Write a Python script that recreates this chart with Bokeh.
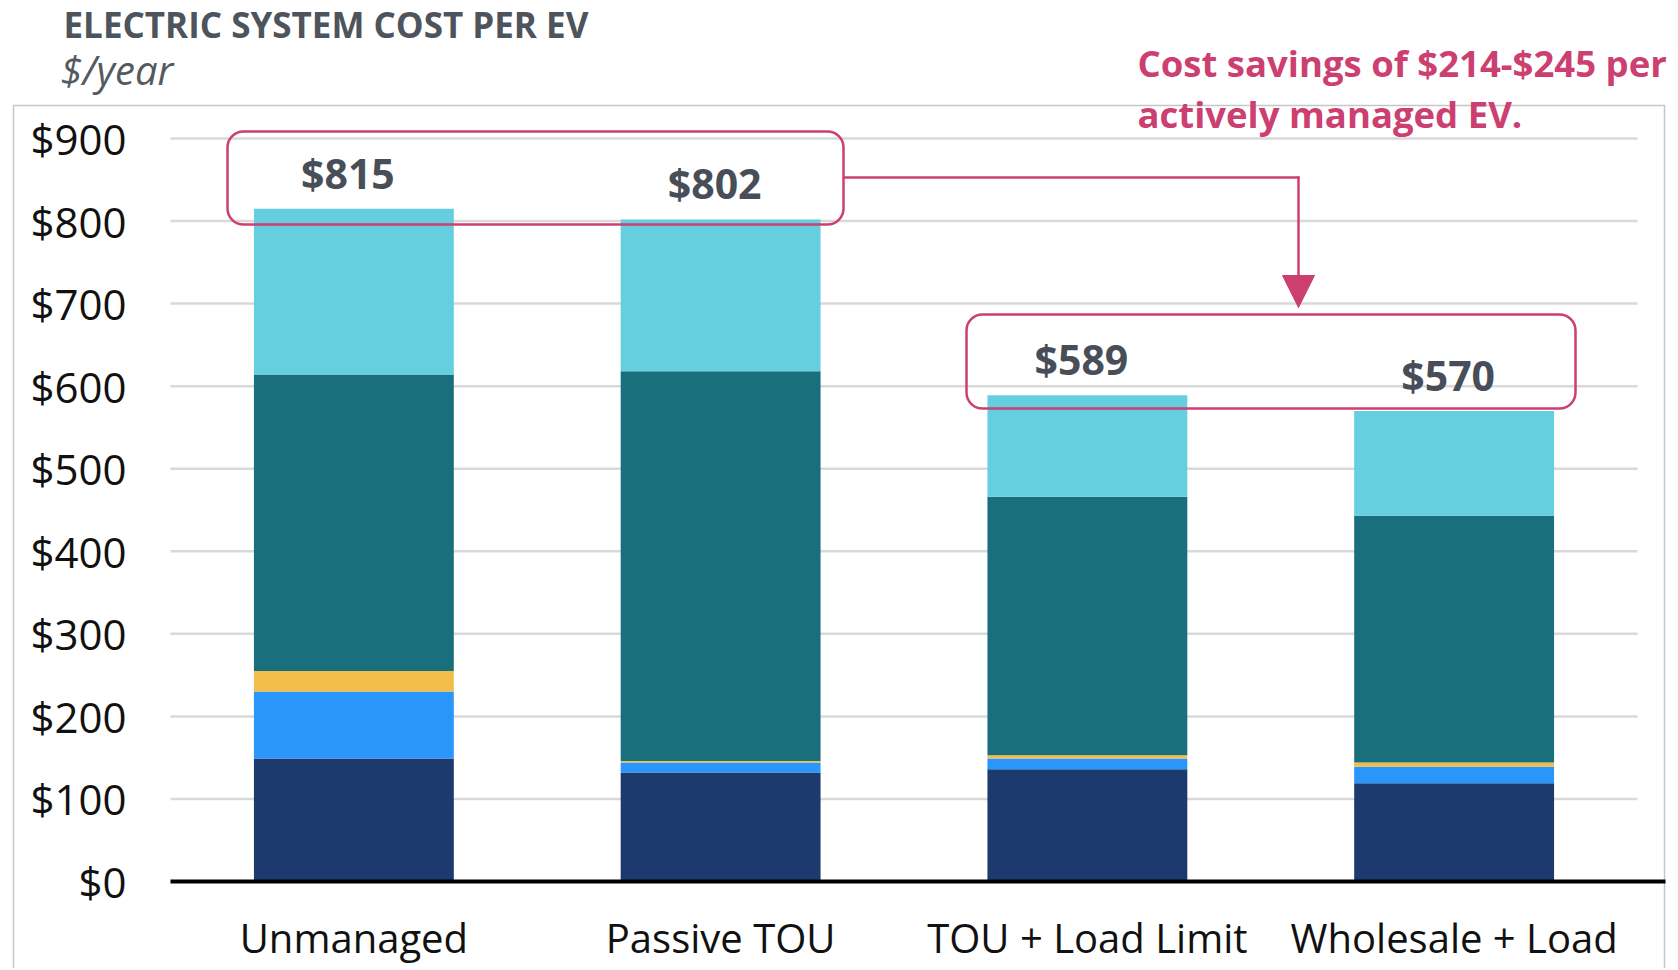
from bokeh.plotting import figure
from bokeh.models import (ColumnDataSource, Range1d, BoxAnnotation, Label, Arrow, NormalHead)
from bokeh.embed import file_html
from bokeh.resources import INLINE
from bokeh.core.properties import value

# ---------------- data ----------------
categories = ["Unmanaged", "Passive TOU", "TOU + Load Limit", "Wholesale + Load"]
series_names = ["comp_1", "comp_2", "comp_3", "comp_4", "comp_5"]
comp_1 = [149, 132, 136, 119]   # dark navy (bottom)
comp_2 = [81, 12, 13, 20]       # bright blue
comp_3 = [25, 2, 4, 5]          # yellow
comp_4 = [359, 472, 313, 299]   # teal
comp_5 = [201, 184, 123, 127]   # light cyan (top)
totals = [815, 802, 589, 570]
total_labels = ["$815", "$802", "$589", "$570"]
y_ticks = [0, 100, 200, 300, 400, 500, 600, 700, 800, 900]
y_tick_labels = ["$0", "$100", "$200", "$300", "$400", "$500", "$600", "$700", "$800", "$900"]
title_text = "ELECTRIC SYSTEM COST PER EV"
subtitle_text = "$/year"
note_lines = ["Cost savings of $214-$245 per", "actively managed EV."]

colors = ["#1c3a6e", "#2a95fb", "#f2bd48", "#1a6f7c", "#66cfdf"]
PINK = "#cc3f71"
FONT = "Open Sans"

# ---------------- geometry (page pixels; canvas sits at the page origin) ----------------
W, H = 1670, 968
PLOT_L = 170                     # left edge of the category area
Y0_PX = 881                      # page y of $0
Y900_PX = 138                    # page y of $900
PX_PER_UNIT_Y = (Y0_PX - Y900_PX) / 900.0
PX_PER_CAT = 366.75


def dx(px):
    return -0.5 + (px - PLOT_L) / PX_PER_CAT


def dy(py):
    return (Y0_PX - py) / PX_PER_UNIT_Y


xs = list(range(len(categories)))
n = len(categories)
src = ColumnDataSource(dict(x=xs, base=[0] * n, comp_1=comp_1, comp_2=comp_2, comp_3=comp_3,
                            comp_4=comp_4, comp_5=comp_5, totals=totals,
                            total_labels=total_labels, categories=categories))

p = figure(width=W, height=H, output_backend="svg", toolbar_location=None,
           x_range=Range1d(dx(0), dx(W)), y_range=Range1d(dy(H), dy(0)),
           x_axis_location=None, y_axis_location=None, min_border=0)
p.outline_line_color = None
p.background_fill_color = "white"
p.border_fill_color = "white"
p.xgrid.visible = False
p.ygrid.visible = False

# outer light-grey chart border
p.add_layout(BoxAnnotation(left=dx(13), right=dx(1664), top=dy(105), bottom=dy(1010),
                           fill_alpha=0, line_color="#c6c6c6", line_alpha=1, line_width=1.5,
                           level="underlay"))

# gridlines
grid_y = [t for t in y_ticks if t > 0]
p.segment(x0=[-0.5] * len(grid_y), x1=[n - 0.5] * len(grid_y),
          y0=grid_y, y1=grid_y, line_color="#d9d9d9", line_width=2.5)

# stacked bars
p.vbar_stack(series_names, x="x", width=0.545, source=src, color=colors, line_width=0)

# baseline axis line
p.segment(x0=[-0.5], x1=[dx(1665)], y0=[0], y1=[0], line_color="black", line_width=4)

# y tick labels
p.text(x=[-0.5] * len(y_ticks), y=y_ticks, text=y_tick_labels, x_offset=-44,
       text_align="right", text_baseline="middle", text_font=value(FONT),
       text_font_size="42px", text_color="#111111")

# category labels
p.text(x="x", y="base", text="categories", source=src, y_offset=56,
       text_align="center", text_baseline="middle", text_font=value(FONT),
       text_font_size="40px", text_color="#111111")

# totals
p.text(x="x", y="totals", text="total_labels", source=src, text_align="center",
       text_baseline="middle", y_offset=-36, x_offset=-6, text_font=value(FONT),
       text_font_size="41px", text_font_style="bold", text_color="#474e57")

# title / subtitle
p.add_layout(Label(x=dx(63), y=dy(24), text=title_text, text_font=FONT,
                   text_font_size="35px", text_font_style="bold", text_color="#4d545c",
                   text_baseline="middle", text_align="left"))
p.add_layout(Label(x=dx(60), y=dy(69), text=subtitle_text, text_font=FONT,
                   text_font_size="40px", text_font_style="italic", text_color="#555a60",
                   text_baseline="middle", text_align="left"))

# annotation text
for i, line in enumerate(note_lines):
    p.add_layout(Label(x=dx(1137), y=dy(62 + 51 * i), text=line, text_font=FONT,
                       text_font_size="36.5px", text_font_style="bold", text_color=PINK,
                       text_baseline="middle", text_align="left"))

# rounded callout boxes
for (l, r, t, b) in [(227, 843, 131, 224), (966, 1575, 314, 408)]:
    p.add_layout(BoxAnnotation(left=dx(l), right=dx(r), top=dy(t), bottom=dy(b),
                               fill_alpha=0, line_color=PINK, line_alpha=1, line_width=2.5,
                               border_radius=16))

# connector with arrow
p.add_layout(Arrow(end=None, x_start=dx(843), y_start=dy(177), x_end=dx(1299), y_end=dy(177),
                   line_color=PINK, line_width=2.5))
p.add_layout(Arrow(end=NormalHead(size=32, fill_color=PINK, line_color=PINK),
                   x_start=dx(1298), y_start=dy(176), x_end=dx(1298), y_end=dy(307),
                   line_color=PINK, line_width=2.5))

open("out.html", "w").write(file_html(p, INLINE))
